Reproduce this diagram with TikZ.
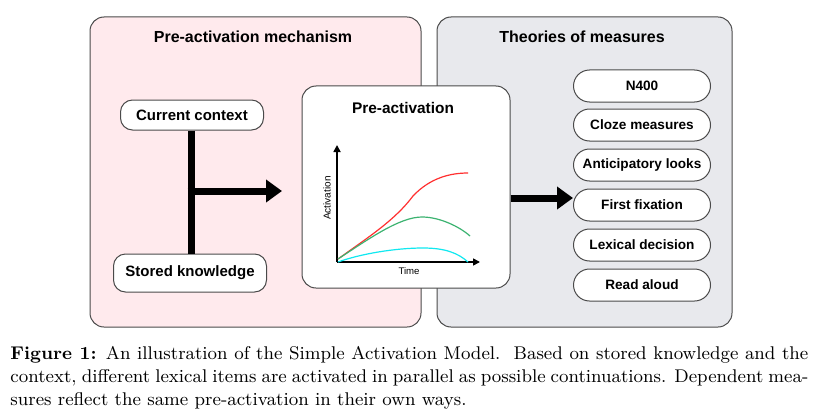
\documentclass[tikz,border=0pt]{standalone}
\usepackage{fontspec}
\newfontfamily\arialbf[Scale=1]{Liberation Sans}
\usetikzlibrary{arrows.meta}

\definecolor{panelpink}{HTML}{FFEAED}
\definecolor{panelgray}{HTML}{E8E9ED}
\definecolor{edgegray}{HTML}{4A4A4A}
\definecolor{curvered}{HTML}{FF3030}
\definecolor{curvegreen}{HTML}{3CB371}
\definecolor{curvecyan}{HTML}{10E8F0}

\tikzset{
    panel/.style={draw=edgegray, line width=0.5pt, rounded corners=7pt},
    inbox/.style={draw=edgegray, fill=white, line width=0.5pt, rounded corners=6pt, font=\arialbf\bfseries\fontsize{7.5}{8}\selectfont},
    measure/.style={draw=edgegray, fill=white, line width=0.5pt, rounded corners=8pt, minimum width=68.5pt, minimum height=16pt, inner sep=0pt, font=\arialbf\bfseries\fontsize{6.8}{7}\selectfont},
    title/.style={font=\arialbf\bfseries\fontsize{8}{9}\selectfont},
    thick arrow/.style={line width=3.5pt, -{Triangle[length=8pt, width=11pt]}},
}

\begin{document}
\begin{tikzpicture}[x=0.5pt, y=-0.5pt]
    \useasboundingbox (0,0) rectangle (817,417);

    % panels
    \draw[panel, fill=panelpink] (90,17) rectangle (421,327);
    \draw[panel, fill=panelgray] (437,17) rectangle (732,327);
    \node[title] (mechtitle) at (253,37) {Pre-activation mechanism};
    \node[title] (theorytitle) at (582,37) {Theories of measures};

    % inputs
    \node[inbox, minimum width=71.5pt, minimum height=15pt] (context) at (192,115) {Current context};
    \node[inbox, minimum width=76.5pt, minimum height=19pt] (knowledge) at (190,273) {Stored knowledge};
    \coordinate (join) at (191,191);
    \coordinate (mechout) at (282,191);
    \draw[line width=3.5pt] (context.south -| join) -- (knowledge.north -| join);
    \draw[thick arrow] ([xshift=-1.75pt]join) -- (mechout);

    % pre-activation plot
    \node[draw=edgegray, fill=white, line width=0.5pt, rounded corners=7pt, minimum width=104pt, minimum height=101pt] (preact) at (406,187) {};
    \node[font=\arialbf\bfseries\fontsize{7.7}{9}\selectfont] (preacttitle) at (403,108) {Pre-activation};
    \coordinate (origin) at (337,262);
    \draw[line width=0.8pt, -{Triangle[length=3.5pt, width=3.5pt]}] (origin) -- (337,145) coordinate (ytop);
    \draw[line width=0.8pt, -{Triangle[length=3.5pt, width=3.5pt]}] (origin) -- (480,262) coordinate (xend);
    \node[rotate=90, font=\arialbf\fontsize{5}{6}\selectfont] (ylabel) at (327,198) {Activation};
    \node[font=\arialbf\fontsize{4.8}{5}\selectfont] (xlabel) at (409,271) {Time};
    \draw[curvered, line width=0.6pt] (338,259) .. controls (370,236) and (395,220) .. (413,196) .. controls (430,178) and (450,173) .. (468,173);
    \draw[curvegreen, line width=0.6pt] (338,259) .. controls (370,238) and (400,217) .. (422,217) .. controls (440,217) and (460,227) .. (470,236);
    \draw[curvecyan, line width=0.6pt] (338,262) .. controls (360,254) and (395,248) .. (423,248) .. controls (445,248) and (458,253) .. (468,262);

    % measures
    \node[measure] (n400) at (642,86) {N400};
    \node[measure] (cloze) at (642,125) {Cloze measures};
    \node[measure] (looks) at (642,165) {Anticipatory looks};
    \node[measure] (fixation) at (642,205) {First fixation};
    \node[measure] (lexical) at (642,245) {Lexical decision};
    \node[measure] (aloud) at (642,285) {Read aloud};
    \draw[thick arrow] (preact.east |- 0,198) -- (fixation.west |- 0,198);

    % caption
    \node[anchor=north west, inner sep=0pt, text width=399pt, align=justify, font=\fontsize{9.2}{11.5}\selectfont] (caption) at (10,346)
        {\textbf{Figure 1:}\enspace An illustration of the Simple Activation Model.\ \ Based on stored knowledge and the\linebreak
        context, different lexical items are activated in parallel as possible continuations. Dependent mea-\linebreak
        sures reflect the same pre-activation in their own ways.};
\end{tikzpicture}
\end{document}
